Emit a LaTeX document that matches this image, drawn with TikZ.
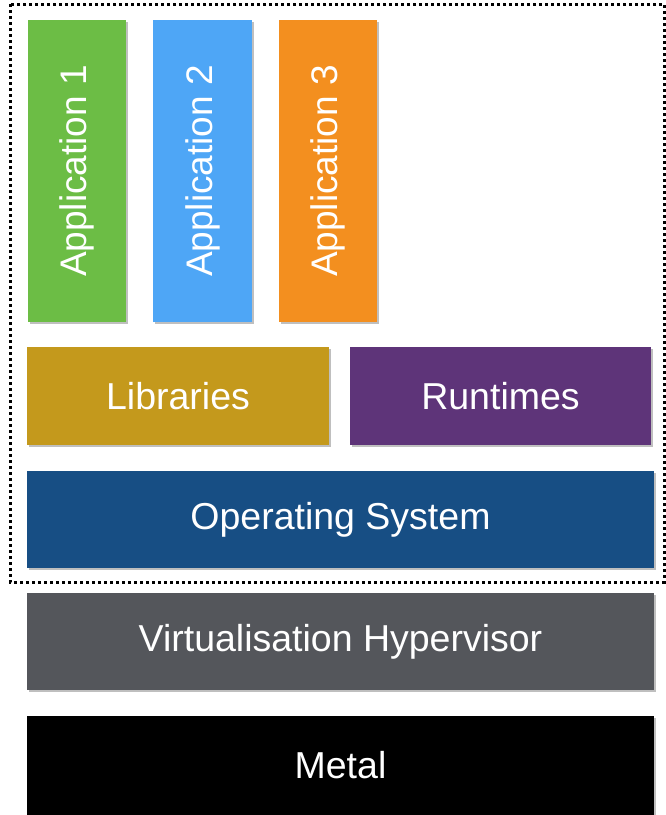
\documentclass[tikz,border=0pt]{standalone}
\usepackage{fontspec}
\setmainfont{Liberation Sans}
\usetikzlibrary{shadows}
\definecolor{cgreen}{HTML}{6CBD45}
\definecolor{cblue}{HTML}{4EA6F6}
\definecolor{corange}{HTML}{F38F1F}
\definecolor{clib}{HTML}{C4991C}
\definecolor{crun}{HTML}{5E3479}
\definecolor{cos}{HTML}{174E84}
\definecolor{chyp}{HTML}{54565B}
\tikzset{
  layer/.style={draw=none, inner sep=0pt, text=white, font=\fontsize{37.5}{42}\selectfont,
    drop shadow={shadow xshift=1.5pt, shadow yshift=-1.5pt, opacity=0.25, fill=black}},
  apptext/.style={rotate=90, text=white, font=\fontsize{37}{42}\selectfont},
  border/.style={draw=black, line width=3pt, dash pattern=on 3pt off 3pt}
}
\begin{document}
\begin{tikzpicture}[x=1pt, y=-1pt]
\useasboundingbox (0,0) rectangle (666,815);
% dotted frame
\draw[border] (10,4) rectangle (664,582);
% applications
\node[layer, fill=cgreen, minimum width=98pt, minimum height=302pt] (app1) at (77,171) {};
\node[apptext] (t1) at (app1.center) {Application 1};
\node[layer, fill=cblue, minimum width=99pt, minimum height=302pt] (app2) at (202.5,171) {};
\node[apptext] (t2) at (app2.center) {Application 2};
\node[layer, fill=corange, minimum width=98pt, minimum height=302pt] (app3) at (328,171) {};
\node[apptext] (t3) at (app3.center) {Application 3};
% libraries, runtimes
\node[layer, fill=clib, minimum width=302pt, minimum height=98pt] (lib) at (178,396) {Libraries};
\node[layer, fill=crun, minimum width=301pt, minimum height=98pt] (run) at (500.5,396) {Runtimes};
% OS
\node[layer, fill=cos, minimum width=627pt, minimum height=97pt] (os) at (340.5,519.5) {Operating System};
% hypervisor
\node[layer, fill=chyp, minimum width=627pt, minimum height=97pt] (hyp) at (340.5,641.5) {Virtualisation Hypervisor};
% metal
\node[layer, fill=black, minimum width=627pt, minimum height=99pt] (metal) at (340.5,765.5) {Metal};
\end{tikzpicture}
\end{document}
